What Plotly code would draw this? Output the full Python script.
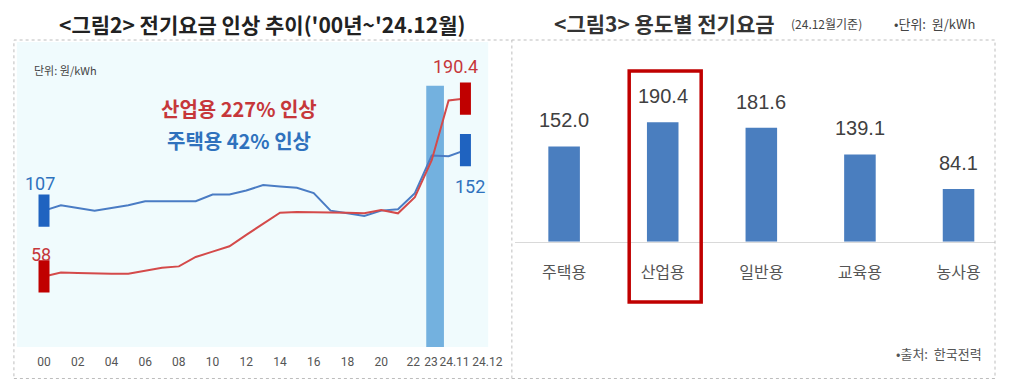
import plotly.graph_objects as go

# the page body keeps its default 8px margin, so the figure is 16px smaller than the window
W, H = 1002, 371
OFF = 8

# left chart: electricity tariff trend ('00 ~ '24.12)
periods = ['00', '01', '02', '03', '04', '05', '06', '07', '08', '09', '10', '11', '12',
           '13', '14', '15', '16', '17', '18', '19', '20', '21', '22', '23', '24.11', '24.12']
residential = [107, 111, 109, 107, 109, 111, 114, 114, 114, 114, 119, 119, 122,
               126, 125, 124, 120, 107, 105, 103, 107, 108, 120, 148, 147.5, 152]
industrial = [58, 61, 60.5, 60, 60, 60, 62, 64.5, 65.5, 72.5, 76.5, 80.5, 89,
              97.5, 105.5, 106, 106, 106, 105.5, 105, 107.5, 105, 117, 144.5, 189, 190.4]
tick_labels = ['00', '02', '04', '06', '08', '10', '12', '14', '16', '18', '20', '22', '23', '24.11', '24.12']
tick_pos = [0, 2, 4, 6, 8, 10, 12, 14, 16, 18, 20, 21.9, 22.95, 24.35, 26.3]
highlight_x = [23.2]
highlight_val = [200]

# right chart: tariff by usage (as of 24.12)
usage = ['주택용', '산업용', '일반용', '교육용', '농사용']
tariff = [152.0, 190.4, 181.6, 139.1, 84.1]

BLUE_LINE = '#4a7cc4'
RED_LINE = '#d44a4a'
BLUE_TXT = '#2f72bd'
RED_TXT = '#c6373a'
NUM = 'Roboto, Liberation Sans, sans-serif'
KR = 'Noto Sans CJK KR, sans-serif'


def px(x):
    return (x - OFF) / W


def py(y):
    return 1 - (y - OFF) / H


x_idx = list(range(len(periods)))

fig = go.Figure()

fig.add_trace(go.Bar(x=highlight_x, y=highlight_val, width=1.05, marker_color='#73b1df',
                     marker_line_width=0, xaxis='x', yaxis='y'))
fig.add_trace(go.Scatter(x=x_idx, y=residential, mode='lines', line=dict(color=BLUE_LINE, width=2),
                         xaxis='x', yaxis='y'))
fig.add_trace(go.Scatter(x=x_idx, y=industrial, mode='lines', line=dict(color=RED_LINE, width=2),
                         xaxis='x', yaxis='y'))
# end markers
fig.add_trace(go.Scatter(x=[x_idx[0], x_idx[-1]], y=[residential[0], residential[-1]], mode='markers',
                         marker=dict(symbol='line-ns', size=23, line=dict(width=11, color='#1f63c0')),
                         xaxis='x', yaxis='y'))
fig.add_trace(go.Scatter(x=[x_idx[0], x_idx[-1]], y=[industrial[0], industrial[-1]], mode='markers',
                         marker=dict(symbol='line-ns', size=23, line=dict(width=11, color='#c00000')),
                         xaxis='x', yaxis='y'))

fig.add_trace(go.Bar(x=usage, y=tariff, width=0.32, marker_color='#4a7ebf', marker_line_width=0,
                     xaxis='x2', yaxis='y2'))

ann = []
vfont = dict(family=NUM, size=18)
ann.append(dict(x=x_idx[0], y=residential[0], text=str(residential[0]), xshift=-4, yshift=27,
                font=dict(vfont, color=BLUE_TXT)))
ann.append(dict(x=x_idx[0], y=industrial[0], text=str(industrial[0]), xshift=-3, yshift=22,
                font=dict(vfont, color=RED_TXT)))
ann.append(dict(x=x_idx[-1], y=industrial[-1], text=str(industrial[-1]), xshift=-10, yshift=32,
                font=dict(vfont, color=RED_TXT)))
ann.append(dict(x=x_idx[-1], y=residential[-1], text=str(residential[-1]), xshift=5, yshift=-36,
                font=dict(vfont, color=BLUE_TXT)))
for a in ann:
    a.update(xref='x', yref='y', showarrow=False)

for u, v in zip(usage, tariff):
    ann.append(dict(x=u, y=v, xref='x2', yref='y2', text=f'{v:.1f}', yshift=26, showarrow=False,
                    font=dict(family='Liberation Sans, Arial, sans-serif', size=20, color='#404040')))

# texts in paper space
ann += [
    dict(x=px(266), y=py(24), xanchor='center', text='&lt;그림2&gt; 전기요금 인상 추이(\'00년~\'24.12월)',
         font=dict(family=KR, size=21, color='#222222', weight='bold')),
    dict(x=px(560), y=py(23), xanchor='left', text='&lt;그림3&gt; 용도별 전기요금',
         font=dict(family=KR, size=21, color='#333333', weight='bold')),
    dict(x=px(800), y=py(24), xanchor='left', text='(24.12월기준)',
         font=dict(family=KR, size=12, color='#444444')),
    dict(x=px(905), y=py(23), xanchor='left', text='•단위:  원/kWh',
         font=dict(family=KR, size=13, color='#444444')),
    dict(x=px(32), y=py(70), xanchor='left', text='단위: 원/kWh',
         font=dict(family=KR, size=11, color='#444444')),
    dict(x=px(242), y=py(109), xanchor='center', text='산업용 227% 인상',
         font=dict(family=KR, size=20, color=RED_TXT, weight='bold')),
    dict(x=px(242), y=py(141), xanchor='center', text='주택용 42% 인상',
         font=dict(family=KR, size=20, color=BLUE_TXT, weight='bold')),
    dict(x=px(998), y=py(353), xanchor='right', text='•출처:  한국전력',
         font=dict(family=KR, size=13, color='#555555')),
]
for a in ann[-8:]:
    a.update(xref='paper', yref='paper', showarrow=False, yanchor='middle')

shapes = [
    # light cyan plot background of the left chart
    dict(type='rect', xref='x domain', yref='y domain', x0=0, x1=1, y0=0, y1=1,
         fillcolor='#f0fbfd', line_width=0, layer='below'),
    # dotted frame
    dict(type='rect', xref='paper', yref='paper', x0=px(14), x1=px(1009), y0=py(378.5), y1=py(40),
         line=dict(color='#bdbdbd', width=1, dash='dot')),
    dict(type='line', xref='paper', yref='paper', x0=px(519), x1=px(519), y0=py(378.5), y1=py(40),
         line=dict(color='#bdbdbd', width=1, dash='dot')),
    # red highlight box
    dict(type='rect', xref='paper', yref='paper', x0=px(638), x1=px(711), y0=py(302), y1=py(71),
         line=dict(color='#c00000', width=3.5)),
]

fig.update_layout(
    width=W, height=H,
    margin=dict(l=0, r=0, t=0, b=0),
    paper_bgcolor='white', plot_bgcolor='rgba(0,0,0,0)',
    showlegend=False,
    annotations=ann,
    shapes=shapes,
    xaxis=dict(domain=[px(17), px(495)], range=[-1.61, 26.35], anchor='y',
               tickvals=tick_pos, ticktext=tick_labels, tickangle=0, ticks='', showgrid=False,
               zeroline=False, showline=False, ticklabelstandoff=6,
               tickfont=dict(family=NUM, size=12, color='#555555')),
    yaxis=dict(domain=[py(347), py(42)], range=[5.5, 232.5], anchor='x', visible=False),
    xaxis2=dict(domain=[px(522), px(1009)], range=[-0.5, 4.37], anchor='y2', type='category',
                tickangle=0, ticks='', showgrid=False, zeroline=False, showline=True,
                linecolor='#d9d9d9', linewidth=1, ticklabelstandoff=16,
                tickfont=dict(family=KR, size=16, color='#555555')),
    yaxis2=dict(domain=[py(241.7), py(241.7 - 290 * 0.627)], range=[0, 290], anchor='x2',
                visible=False),
)

fig.write_html("out.html")
